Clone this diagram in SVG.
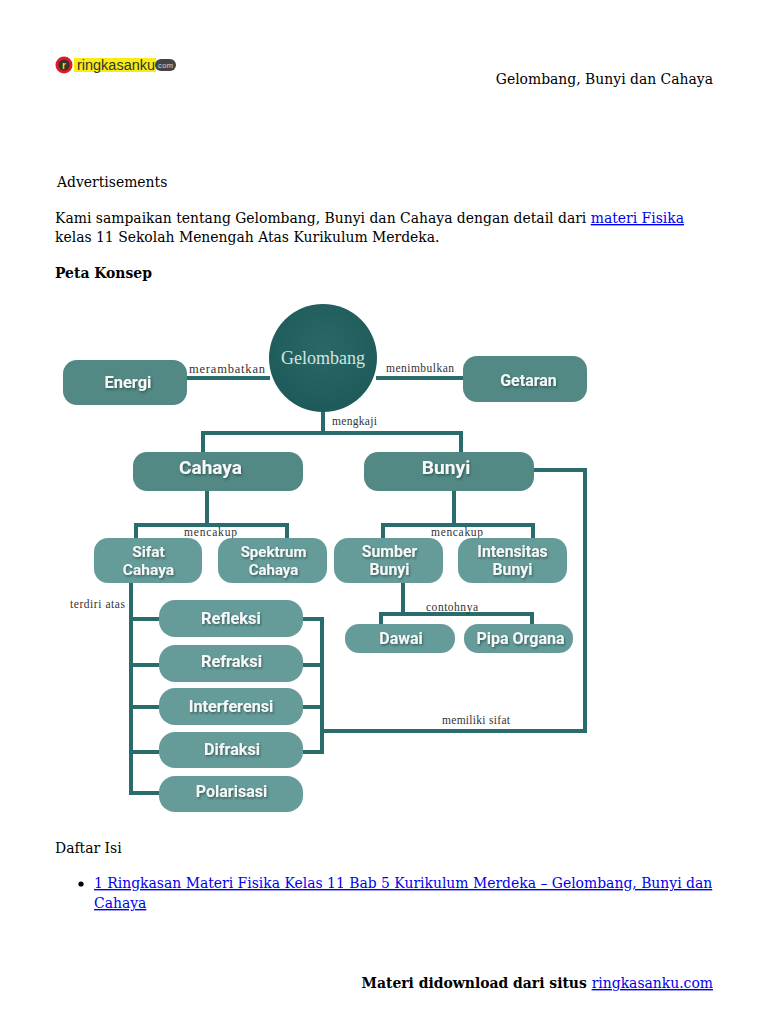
<svg xmlns="http://www.w3.org/2000/svg" width="768" height="1024" viewBox="0 0 768 1024">
<style>
.p{font-family:"DejaVu Serif",serif;font-size:13.93px;fill:#000}
.b{font-weight:bold}
.a{fill:#0000ee;text-decoration:underline}
.l{font-family:"Liberation Serif",serif;font-size:11.5px;fill:#333}
.n{fill:#528985}
.m{fill:#659c9a}
.t{font-family:Roboto,"Liberation Sans",sans-serif;font-weight:700;fill:#f6f8f8;text-anchor:middle;filter:url(#s)}
.c{fill:none;stroke:#2a6b6b;stroke-width:4}
</style>
<defs>
<filter id="s" x="-20%" y="-30%" width="140%" height="170%"><feDropShadow dx="1" dy="1.5" stdDeviation="1.2" flood-color="#1c3c3a" flood-opacity=".65"/></filter>
<radialGradient id="g" cx=".5" cy=".4" r=".6"><stop offset="0" stop-color="#2a6866"/><stop offset="1" stop-color="#1d5a59"/></radialGradient>
</defs>
<g id="logo">
<circle cx="64" cy="65" r="8.5" fill="#e01b22"/><circle cx="64" cy="65" r="5.5" fill="#333"/>
<text x="64" y="69" font-family="Liberation Sans,sans-serif" font-size="10" font-weight="bold" fill="#f5d90a" text-anchor="middle">r</text>
<rect x="74" y="58" width="82" height="14" fill="#f7ec13"/>
<rect x="155" y="59" width="21" height="12" rx="6" fill="#444"/>
<text x="77" y="70" font-family="Liberation Sans,sans-serif" font-size="14" fill="#333" textLength="78" lengthAdjust="spacingAndGlyphs">ringkasanku</text>
<text x="158" y="68" font-family="Liberation Sans,sans-serif" font-size="7.5" fill="#ddd" textLength="15">com</text>
</g>
<g id="page-text">
<text class="p" x="713" y="84" text-anchor="end">Gelombang, Bunyi dan Cahaya</text>
<text class="p" x="57" y="187">Advertisements</text>
<text class="p" x="55" y="223">Kami sampaikan tentang Gelombang, Bunyi dan Cahaya dengan detail dari <tspan class="a">materi Fisika</tspan></text>
<text class="p" x="55" y="242">kelas 11 Sekolah Menengah Atas Kurikulum Merdeka.</text>
<text class="p b" x="55" y="278">Peta Konsep</text>
<text class="p" x="55" y="853">Daftar Isi</text>
<circle cx="81" cy="884" r="2.6" fill="#000"/>
<text class="p a" x="94" y="888">1 Ringkasan Materi Fisika Kelas 11 Bab 5 Kurikulum Merdeka – Gelombang, Bunyi dan</text>
<text class="p a" x="94" y="908">Cahaya</text>
<text class="p" x="713" y="988" text-anchor="end"><tspan class="b">Materi didownload dari situs </tspan><tspan class="a">ringkasanku.com</tspan></text>
</g>
<g id="connectors">
<path class="c" d="M187 378H270M376 378H463"/>
<path class="c" d="M323 410V433M203 452V433H461V452"/>
<path class="c" d="M207 491V525M136 538V525H287V538"/>
<path class="c" d="M454 491V525M383 538V525H533V538"/>
<path class="c" d="M534 470H585V731H322"/>
<path class="c" d="M131 583V793H159M131 619H159M131 665H159M131 707H159M131 752H159"/>
<path class="c" d="M303 619H322V752H303M303 665H322M303 707H322"/>
<path class="c" d="M403 583V614M381 624V614H532V624"/>
</g>
<g id="connector-labels">
<text class="l" x="189" y="373" textLength="76" style="font-size:12.5px">merambatkan</text>
<text class="l" x="386" y="372" textLength="68">menimbulkan</text>
<text class="l" x="332" y="425" textLength="45">mengkaji</text>
<text class="l" x="184" y="536" textLength="53">mencakup</text>
<text class="l" x="431" y="536" textLength="52">mencakup</text>
<text class="l" x="70" y="608" textLength="55">terdiri atas</text>
<text class="l" x="426" y="611" textLength="52">contohnya</text>
<text class="l" x="442" y="724" textLength="68">memiliki sifat</text>
</g>
<g id="gelombang"><circle cx="323" cy="358" r="54" fill="url(#g)"/><text x="323" y="364" font-family="Liberation Serif,serif" font-size="18" fill="#d5e3e2" text-anchor="middle">Gelombang</text></g>
<g id="energi"><rect class="n" x="63" y="360" width="124" height="45" rx="14"/><text class="t" x="128" y="388" font-size="16.4">Energi</text></g>
<g id="getaran"><rect class="n" x="463" y="356" width="124" height="46" rx="14"/><text class="t" x="528.500" y="386" font-size="16">Getaran</text></g>
<g id="cahaya"><rect class="n" x="133" y="452" width="170" height="39" rx="14"/><text class="t" x="210.500" y="474" font-size="19">Cahaya</text></g>
<g id="bunyi"><rect class="n" x="364" y="452" width="170" height="39" rx="14"/><text class="t" x="446" y="474" font-size="19.200">Bunyi</text></g>
<g id="sifat"><rect class="m" x="94" y="538" width="108" height="45" rx="14"/><text class="t" x="148.500" y="557" font-size="15.5">Sifat</text><text class="t" x="148.500" y="575" font-size="15.5">Cahaya</text></g>
<g id="spektrum"><rect class="m" x="218" y="538" width="109" height="45" rx="14"/><text class="t" x="273.500" y="557" font-size="15">Spektrum</text><text class="t" x="273.500" y="575" font-size="15">Cahaya</text></g>
<g id="sumber"><rect class="m" x="334" y="538" width="109" height="45" rx="14"/><text class="t" x="389.500" y="557" font-size="15.8">Sumber</text><text class="t" x="389.500" y="575" font-size="15.8">Bunyi</text></g>
<g id="intensitas"><rect class="m" x="458" y="538" width="109" height="45" rx="14"/><text class="t" x="512.500" y="557" font-size="15.8">Intensitas</text><text class="t" x="512.500" y="575" font-size="15.8">Bunyi</text></g>
<g id="refleksi"><rect class="m" x="159" y="600" width="144" height="37" rx="16"/><text class="t" x="231" y="624" font-size="16.4">Refleksi</text></g>
<g id="refraksi"><rect class="m" x="159" y="645" width="144" height="37" rx="16"/><text class="t" x="231.500" y="667" font-size="16.4">Refraksi</text></g>
<g id="interferensi"><rect class="m" x="159" y="688" width="144" height="37" rx="16"/><text class="t" x="231" y="712" font-size="16.2">Interferensi</text></g>
<g id="difraksi"><rect class="m" x="159" y="732" width="144" height="36" rx="16"/><text class="t" x="232" y="755" font-size="16.2">Difraksi</text></g>
<g id="polarisasi"><rect class="m" x="159" y="776" width="144" height="36" rx="16"/><text class="t" x="231.500" y="797" font-size="16">Polarisasi</text></g>
<g id="dawai"><rect class="m" x="345" y="624" width="110" height="29" rx="14"/><text class="t" x="401" y="644" font-size="16">Dawai</text></g>
<g id="pipa-organa"><rect class="m" x="464" y="624" width="109" height="29" rx="14"/><text class="t" x="520.500" y="644" font-size="16">Pipa Organa</text></g>
</svg>
